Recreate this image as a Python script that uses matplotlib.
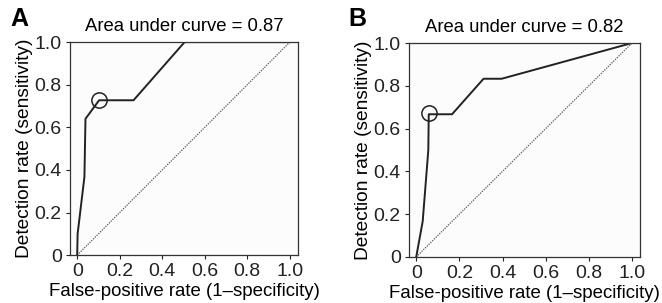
import matplotlib
matplotlib.use("Agg")
import matplotlib.pyplot as plt

plt.rcParams['font.family'] = ['Liberation Sans', 'DejaVu Sans']
plt.rcParams['font.size'] = 13

# ROC curve points
fpr_a = [0.0, 0.002, 0.034, 0.039, 0.103, 0.265, 0.505, 1.0]
tpr_a = [0.0, 0.10, 0.367, 0.64, 0.727, 0.727, 1.0, 1.0]
cut_a = (0.103, 0.727)
auc_a = 0.87

fpr_b = [0.0, 0.03, 0.056, 0.058, 0.166, 0.312, 0.396, 1.0]
tpr_b = [0.0, 0.167, 0.5, 0.667, 0.667, 0.833, 0.833, 1.0]
cut_b = (0.058, 0.672)
auc_b = 0.82

ticks = [0, 0.2, 0.4, 0.6, 0.8, 1.0]
tick_labels = ['0', '0.2', '0.4', '0.6', '0.8', '1.0']

fig = plt.figure(figsize=(6.62, 3.03), dpi=100)
ax_a = fig.add_axes([0.106, 0.158, 0.344, 0.703])
ax_b = fig.add_axes([0.618, 0.152, 0.349, 0.706])


def draw_panel(ax, fpr, tpr, cut, auc, letter, letter_x):
    ax.set_facecolor('#fcfcfc')
    ax.plot([0, 1], [0, 1], color='#555555', lw=0.9, ls=(0, (1, 1)))
    ax.plot(fpr, tpr, color='#222222', lw=1.4)
    ax.plot([cut[0]], [cut[1]], 'o', mfc='none', mec='#222222', ms=11, mew=1.1)
    ax.set_xlim(-0.033, 1.038)
    ax.set_ylim(0, 1.0)
    ax.set_xticks(ticks)
    ax.set_xticklabels(tick_labels)
    ax.set_yticks(ticks)
    ax.set_yticklabels(tick_labels)
    ax.tick_params(length=3, width=0.8, colors='#222222', labelsize=14, pad=3)
    for s in ax.spines.values():
        s.set_color('#333333')
        s.set_linewidth(0.9)
    ax.set_xlabel('False-positive rate (1\u2013specificity)', fontsize=13.4, labelpad=2)
    ax.set_ylabel('Detection rate (sensitivity)', fontsize=13.8, labelpad=1)
    ax.set_title('Area under curve = %.2f' % auc, fontsize=13.3, pad=8)
    fig.text(letter_x, 0.937, letter, fontsize=18, fontweight='bold', ha='left', va='center')


draw_panel(ax_a, fpr_a, tpr_a, cut_a, auc_a, 'A', 0.015)
draw_panel(ax_b, fpr_b, tpr_b, cut_b, auc_b, 'B', 0.527)

fig.savefig('out.png', dpi=100)
